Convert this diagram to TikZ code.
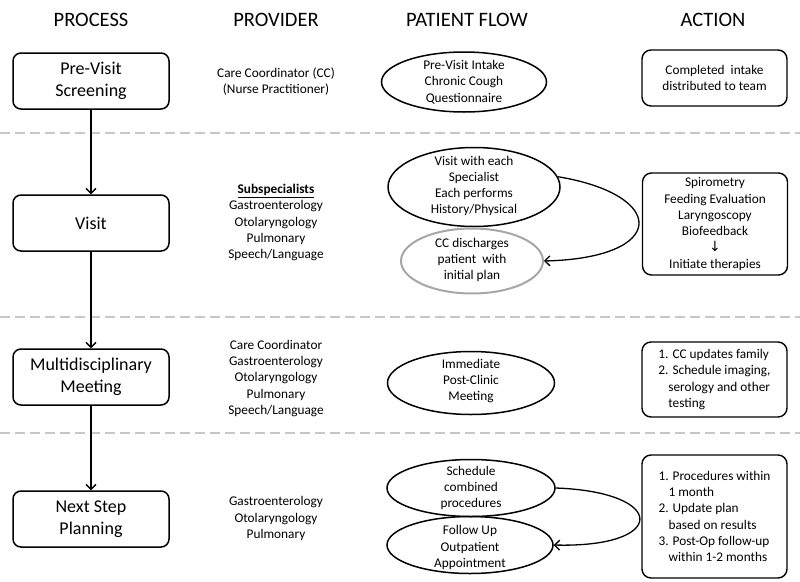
\documentclass[tikz,border=0pt]{standalone}
\usepackage{fontspec}
\setmainfont{Carlito}
\newfontfamily\symfont{DejaVu Sans}
\usetikzlibrary{arrows.meta,shapes.geometric}
\begin{document}
\begin{tikzpicture}[x=1pt,y=-1pt,
  hdr/.style={font=\fontsize{20.5}{24}\selectfont, inner sep=0},
  procbox/.style={draw, line width=1.5pt, rounded corners=8pt, minimum width=156pt, minimum height=56pt, align=center, font=\fontsize{18}{21.5}\selectfont, inner sep=0},
  txt/.style={align=center, font=\fontsize{13.3}{16.3}\selectfont, inner sep=0},
  actbox/.style={draw, line width=1.4pt, rounded corners=9pt, minimum width=145pt, font=\fontsize{13.3}{16.3}\selectfont, inner sep=0},
  flowell/.style={draw, ellipse, line width=1.5pt, inner sep=0},
  grayell/.style={draw=black!35, ellipse, line width=2pt, inner sep=0},
  conn/.style={line width=1.3pt, -{Straight Barb[length=5pt,width=10pt]}},
  sepline/.style={draw=black!22, line width=1.2pt, dash pattern=on 10pt off 5pt}
]
\useasboundingbox (0,0) rectangle (800,581);

% headers
\node[hdr] (h1) at (91,20) {PROCESS};
\node[hdr] (h2) at (276,20) {PROVIDER};
\node[hdr] (h3) at (467,20) {PATIENT FLOW};
\node[hdr] (h4) at (713,20) {ACTION};

% separators
\coordinate (s1a) at (0,133); \coordinate (s1b) at (800,133);
\coordinate (s2a) at (0,317); \coordinate (s2b) at (800,317);
\coordinate (s3a) at (0,433); \coordinate (s3b) at (800,433);
\draw[sepline] (s1a) -- (s1b);
\draw[sepline] (s2a) -- (s2b);
\draw[sepline] (s3a) -- (s3b);

% process boxes
\node[procbox] (b1) at (91,81) {Pre-Visit\\Screening};
\node[procbox] (b2) at (91,223) {Visit};
\node[procbox] (b3) at (91,377) {Multidisciplinary\\Meeting};
\node[procbox] (b4) at (91,519) {Next Step\\Planning};
\draw[conn] (b1.south) -- (b2.north);
\draw[conn] (b2.south) -- (b3.north);
\draw[conn] (b3.south) -- (b4.north);

% providers
\node[txt] (p1) at (276,81.5) {Care Coordinator (CC)\\(Nurse Practitioner)};
\node[txt] (p2) at (276,222.5) {\underline{\textbf{Subspecialists}}\\Gastroenterology\\Otolaryngology\\Pulmonary\\Speech/Language};
\node[txt] (p3) at (276,378.5) {Care Coordinator\\Gastroenterology\\Otolaryngology\\Pulmonary\\Speech/Language};
\node[txt] (p4) at (276,518.5) {Gastroenterology\\Otolaryngology\\Pulmonary};

% patient flow
\node[flowell, minimum width=165pt, minimum height=60pt] (e1) at (464,82) {};
\node[txt] (t1) at (e1) {Pre-Visit Intake\\Chronic Cough\\Questionnaire};
\node[flowell, minimum width=172pt, minimum height=79pt] (e2) at (474,187) {};
\node[txt] (t2) at (474,186) {Visit with each\\Specialist\\Each performs\\History/Physical};
\node[grayell, minimum width=142pt, minimum height=65pt] (e3) at (472,261) {};
\node[txt] (t3) at (472,260) {CC discharges\\patient\ \ with\\initial plan};
\node[flowell, minimum width=167pt, minimum height=63pt] (e4) at (471,383) {};
\node[txt] (t4) at (471,381) {Immediate\\Post-Clinic\\Meeting};
\node[flowell, minimum width=168pt, minimum height=57pt] (e5) at (471,488) {};
\node[txt] (t5) at (e5) {Schedule\\combined\\procedures};
\node[flowell, minimum width=166pt, minimum height=57pt] (e6) at (470,545) {};
\node[txt] (t6) at (470,547.5) {Follow Up\\Outpatient\\Appointment};

\draw[conn] (e2.7) .. controls (668,195) and (668,258) .. (e3.east);
\draw[conn] (e5.east) .. controls (668,492) and (668,548) .. (e6.east);

% actions
\node[actbox, minimum height=56pt, align=center] (a1) at (714.5,78) {Completed\ \ intake\\distributed to team};
\node[actbox, minimum height=102pt, align=center] (a2) at (715,224) {Spirometry\\Feeding Evaluation\\Laryngoscopy\\Biofeedback\\{\symfont\fontsize{14}{16.3}\selectfont ↓}\\Initiate therapies};
\node[actbox, minimum height=75pt, align=left] (a3) at (714.5,379.5) {1. CC updates family\\2. Schedule imaging,\\\hspace*{10pt}serology and other\\\hspace*{10pt}testing};
\node[actbox, minimum height=123pt, align=left] (a4) at (714.5,516.5) {1. Procedures within\\\hspace*{10pt}1 month\\2. Update plan\\\hspace*{10pt}based on results\\3. Post-Op follow-up\\\hspace*{10pt}within 1-2 months};
\end{tikzpicture}
\end{document}
